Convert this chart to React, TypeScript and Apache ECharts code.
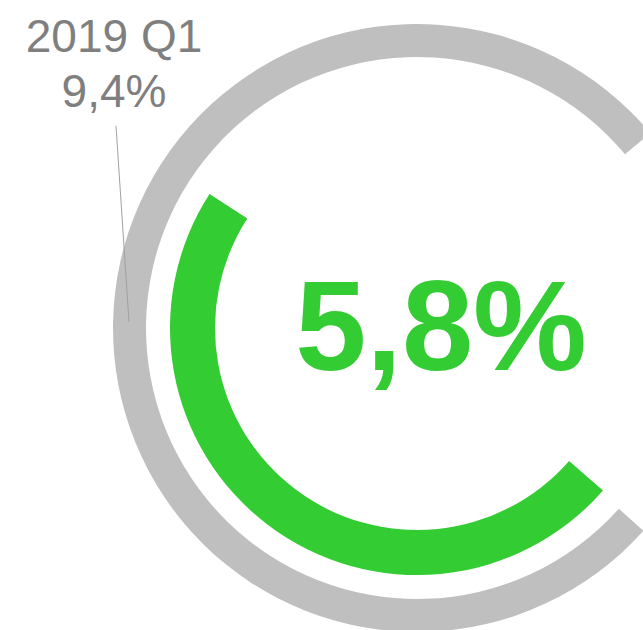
import React, { useEffect, useRef } from "react";
import * as echarts from "echarts";

// ---- data ----
const CURRENT_LABEL = "2019 Q2";
const CURRENT_VALUE = 5.8;
const PREVIOUS_LABEL = "2019 Q1";
const PREVIOUS_VALUE = 9.4;
// full circle of the gauge scale
const SCALE_MAX = 12.16;

const fmt = (v: number) => v.toFixed(1).replace(".", ",") + "%";

const GREEN = "#33cc33";
const GRAY_ARC = "#bfbfbf";
const GRAY_TEXT = "#7f7f7f";
const FONT = "'Liberation Sans', Arial, sans-serif";

const CENTER: [number, number] = [417, 328];

const hidden = {
  axisLine: { show: false },
  axisTick: { show: false },
  splitLine: { show: false },
  axisLabel: { show: false },
  pointer: { show: false },
  anchor: { show: false },
  title: { show: false },
  detail: { show: false },
};

export default function App() {
  const ref = useRef<HTMLDivElement>(null);

  useEffect(() => {
    if (!ref.current) return;
    const chart = echarts.init(ref.current, undefined, { renderer: "svg" });
    const grayStart = -41.85;
    const greenStart = -41.15;
    chart.setOption({
      animation: false,
      backgroundColor: "#ffffff",
      series: [
        {
          type: "gauge",
          name: PREVIOUS_LABEL,
          center: CENTER,
          radius: 304,
          startAngle: grayStart,
          endAngle: grayStart - 360,
          clockwise: true,
          min: 0,
          max: SCALE_MAX,
          progress: { show: true, width: 33, itemStyle: { color: GRAY_ARC } },
          ...hidden,
          data: [{ value: PREVIOUS_VALUE, name: PREVIOUS_LABEL }],
        },
        {
          type: "gauge",
          name: CURRENT_LABEL,
          center: CENTER,
          radius: 247,
          startAngle: greenStart,
          endAngle: greenStart - 360,
          clockwise: true,
          min: 0,
          max: SCALE_MAX,
          progress: { show: true, width: 45, itemStyle: { color: GREEN } },
          ...hidden,
          data: [{ value: CURRENT_VALUE, name: CURRENT_LABEL }],
        },
      ],
      graphic: [
        {
          type: "text",
          x: 441,
          y: 325,
          z: 10,
          style: {
            text: fmt(CURRENT_VALUE),
            fill: GREEN,
            font: `bold 128px ${FONT}`,
            align: "center",
            verticalAlign: "middle",
          },
        },
        {
          type: "text",
          x: 114,
          y: 35.5,
          z: 10,
          style: {
            text: PREVIOUS_LABEL,
            fill: GRAY_TEXT,
            font: `46px ${FONT}`,
            align: "center",
            verticalAlign: "middle",
          },
        },
        {
          type: "text",
          x: 114,
          y: 90.5,
          z: 10,
          style: {
            text: fmt(PREVIOUS_VALUE),
            fill: GRAY_TEXT,
            font: `46px ${FONT}`,
            align: "center",
            verticalAlign: "middle",
          },
        },
        {
          type: "line",
          z: 10,
          shape: { x1: 116, y1: 126, x2: 129, y2: 322 },
          style: { stroke: "#a0a0a0", lineWidth: 1 },
        },
      ],
    });
    return () => chart.dispose();
  }, []);

  return (
    <div
      ref={ref}
      style={{ position: "fixed", left: 0, top: 0, width: 643, height: 630 }}
    />
  );
}
